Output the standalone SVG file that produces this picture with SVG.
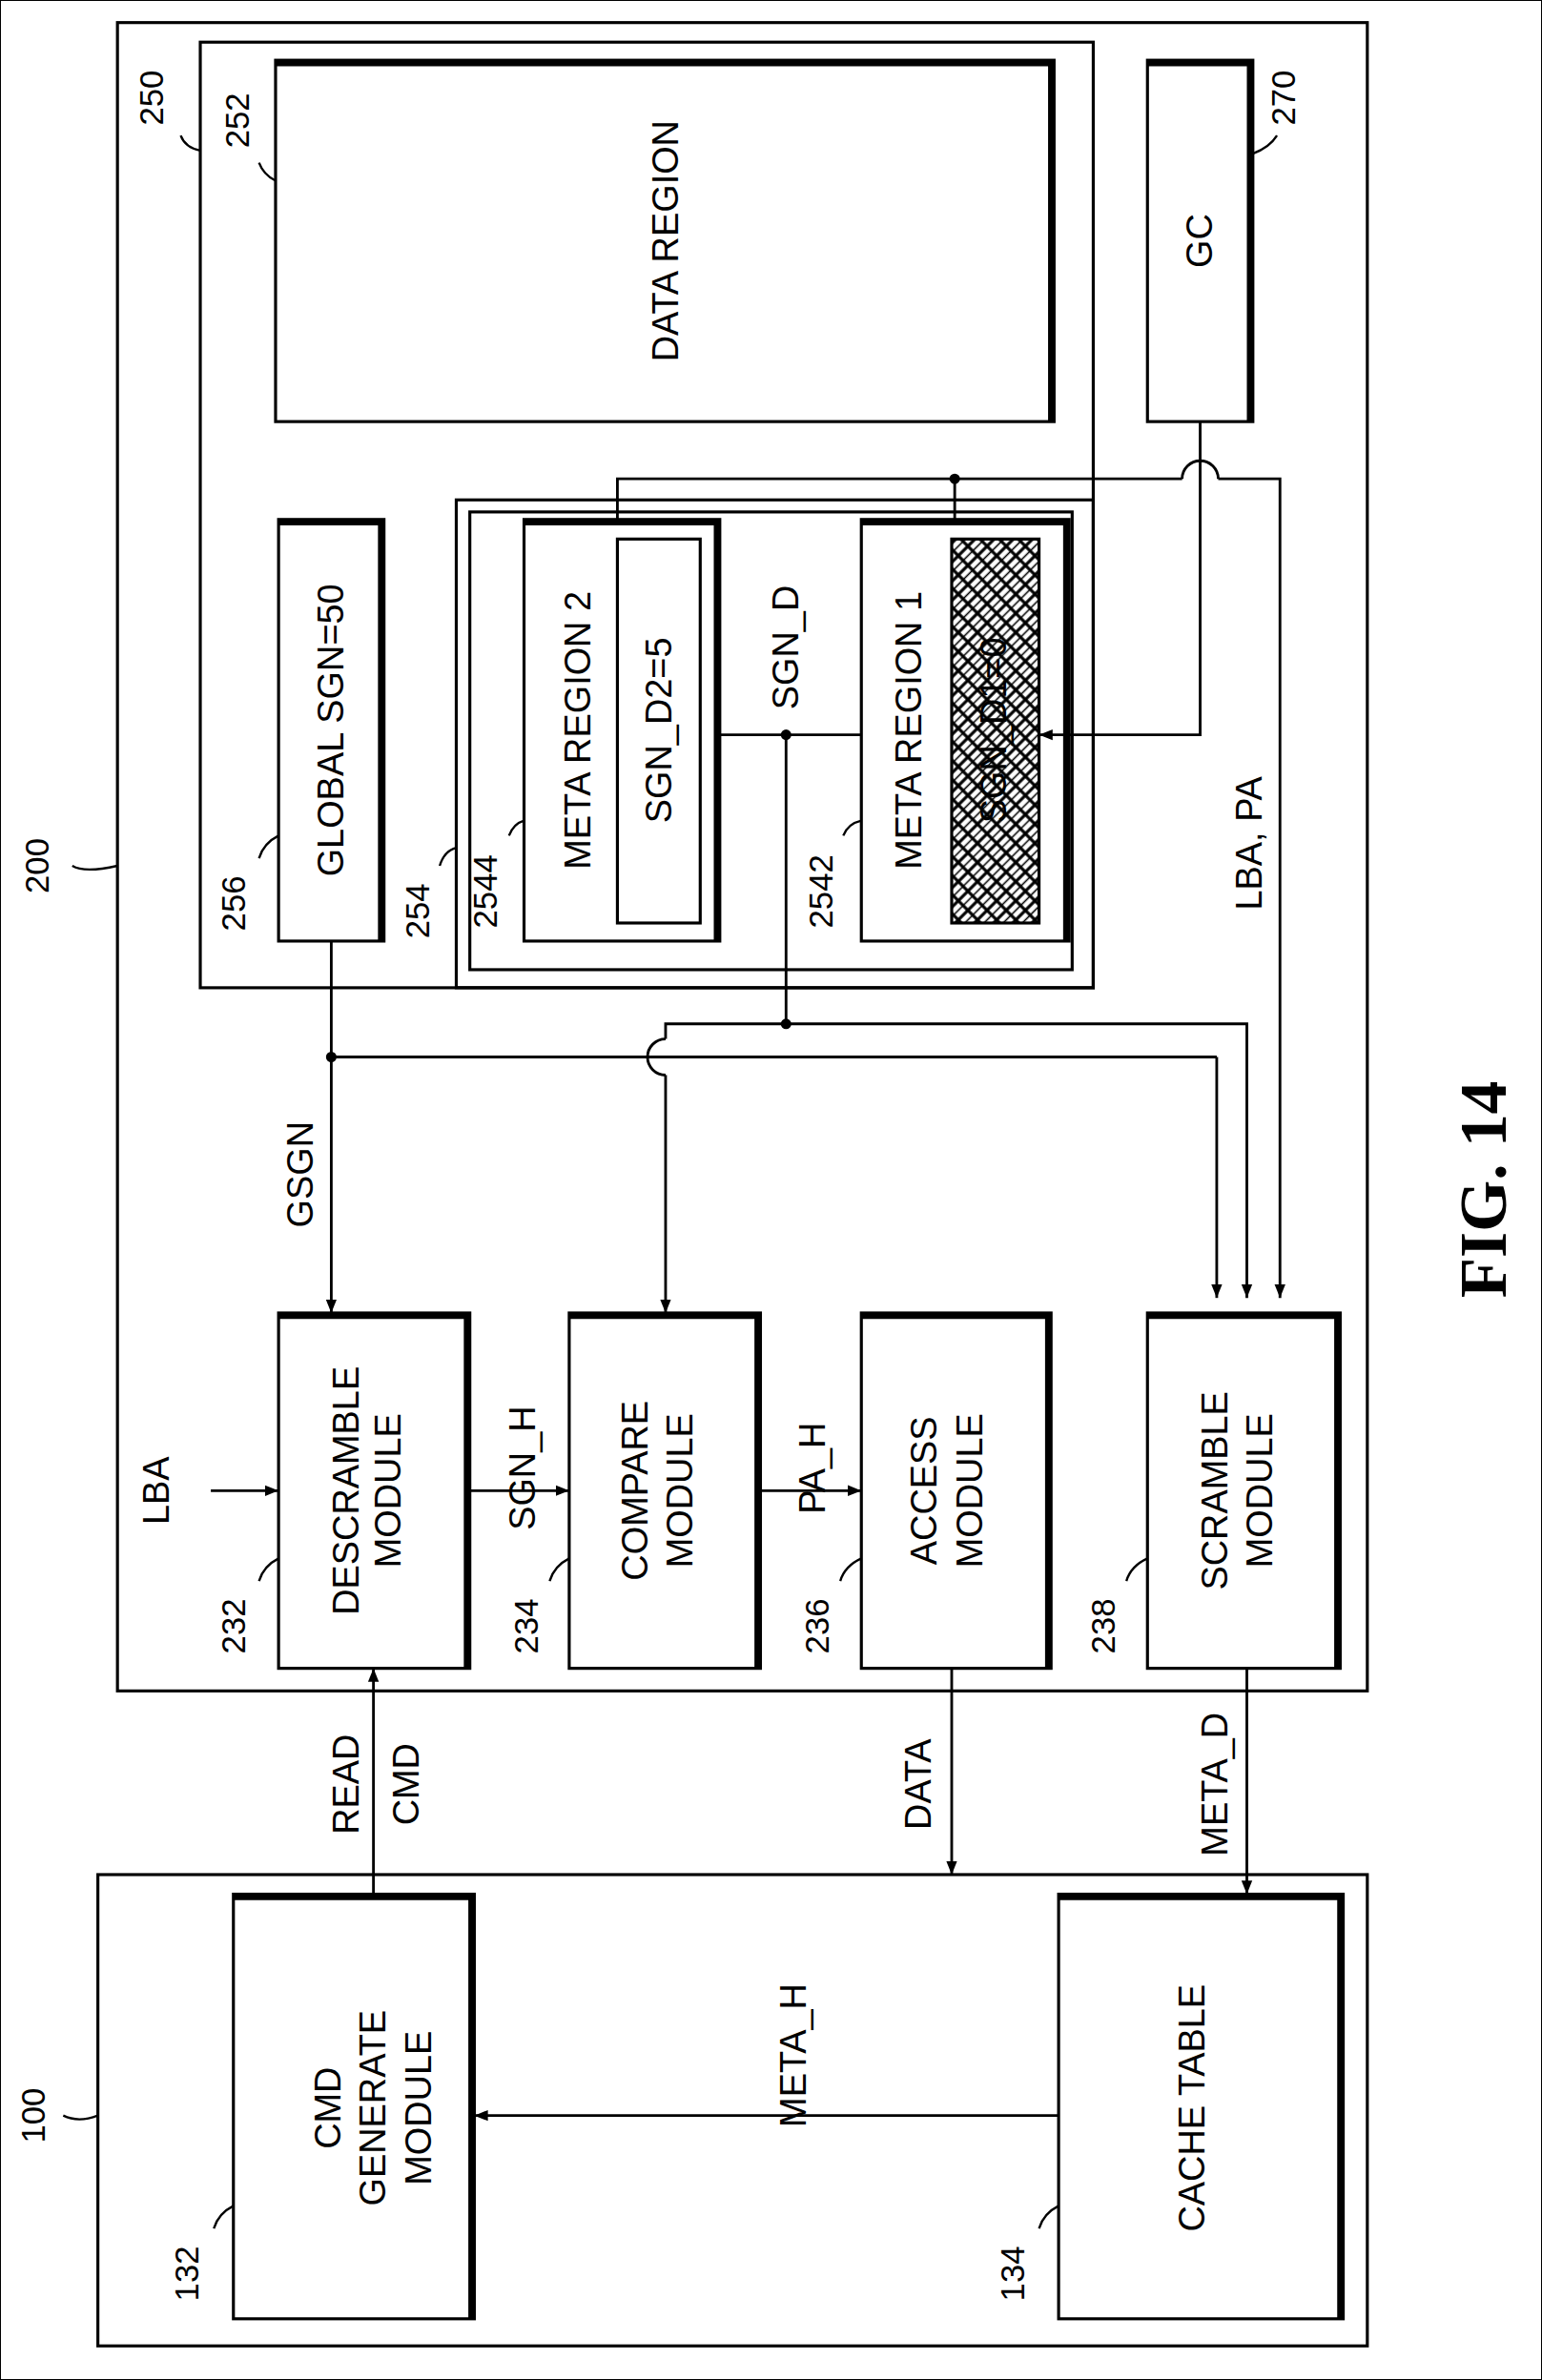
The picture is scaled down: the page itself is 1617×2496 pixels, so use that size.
<svg xmlns="http://www.w3.org/2000/svg" width="1617" height="2496" viewBox="0 0 1617 2496">
<defs>
<marker id="a" viewBox="0 0 10 10" refX="10" refY="5" markerWidth="9" markerHeight="9" orient="auto" markerUnits="userSpaceOnUse"><path d="M0,1 L10,5 L0,9 z" fill="#000"/></marker>
<pattern id="h" width="9" height="9" patternUnits="userSpaceOnUse" patternTransform="rotate(45)"><rect width="9" height="9" fill="#fff" stroke="none"/><line x1="4.5" y1="0" x2="4.5" y2="9" stroke="#000" stroke-width="1"/></pattern>
</defs>
<style>
rect{fill:none;stroke:#000;stroke-width:2}
.s{stroke:#000;stroke-width:4;fill:none}
.c line,.c path,.c polyline{stroke:#000;stroke-width:1.8;fill:none}
text{font-family:"Liberation Sans",Arial,sans-serif;font-size:24px;text-anchor:middle}
.n{font-size:22px}
.l{stroke:#000;stroke-width:1.5;fill:none}
</style>
<rect width="1617" height="2496" fill="#fff" stroke="none"/>
<g transform="scale(1.5791)">
<g id="n200"><rect x="78" y="15" width="830" height="1108"/><text class="n" transform="translate(32,575) rotate(-90)">200</text><path class="l" d="M48,575 q8,5 30,0"/></g>
<g id="n250"><rect x="133" y="28" width="593" height="628"/><text class="n" transform="translate(108,65) rotate(-90)">250</text><path class="l" d="M120,90 q3,8 13,10"/></g>
<g id="n252"><rect x="183" y="40" width="517" height="240"/><path class="s" d="M183,42 H698 V280"/><text transform="translate(450,160) rotate(-90)">DATA REGION</text><text class="n" transform="translate(165,80) rotate(-90)">252</text><path class="l" d="M172,108 q3,8 11,12"/></g>
<g id="n270"><rect x="762" y="40" width="70" height="240"/><path class="s" d="M762,42 H830 V280"/><text transform="translate(805,160) rotate(-90)">GC</text><text class="n" transform="translate(860,65) rotate(-90)">270</text><path class="l" d="M848,90 q-5,8 -16,12"/></g>
<g id="n256"><rect x="185" y="345" width="70" height="280"/><path class="s" d="M185,347 H253 V625"/><text transform="translate(228,485) rotate(-90)">GLOBAL SGN=50</text><text class="n" transform="translate(163,600) rotate(-90)">256</text><path class="l" d="M172,570 q3,-10 13,-15"/></g>
<g id="n254"><rect x="303" y="332" width="423" height="324"/><rect x="312" y="340" width="400" height="304"/><text class="n" transform="translate(285,605) rotate(-90)">254</text><path class="l" d="M292,575 q3,-10 11,-12"/></g>
<g id="n2544"><rect x="348" y="345" width="130" height="280"/><path class="s" d="M348,347 H476 V625"/><rect x="410" y="358" width="55" height="255"/><text transform="translate(392,485) rotate(-90)">META REGION 2</text><text transform="translate(446,485) rotate(-90)">SGN_D2=5</text><text class="n" transform="translate(330,592) rotate(-90)">2544</text><path class="l" d="M338,555 q3,-8 10,-10"/></g>
<g id="n2542"><rect x="572" y="345" width="138" height="280"/><path class="s" d="M572,347 H708 V625"/><rect x="632" y="358" width="58" height="255" style="fill:url(#h)"/><text transform="translate(612,485) rotate(-90)">META REGION 1</text><text transform="translate(668,485) rotate(-90)">SGN_D1=0</text><text class="n" transform="translate(553,592) rotate(-90)">2542</text><path class="l" d="M560,555 q3,-8 12,-10"/></g>
<g id="n232"><rect x="185" y="872" width="127" height="236"/><path class="s" d="M185,874 H310 V1108"/><text transform="translate(238,990) rotate(-90)">DESCRAMBLE</text><text transform="translate(266,990) rotate(-90)">MODULE</text><text class="n" transform="translate(163,1080) rotate(-90)">232</text><path class="l" d="M172,1050 q3,-10 13,-15"/></g>
<g id="n234"><rect x="378" y="872" width="127" height="236"/><path class="s" d="M378,874 H503 V1108"/><text transform="translate(430,990) rotate(-90)">COMPARE</text><text transform="translate(460,990) rotate(-90)">MODULE</text><text class="n" transform="translate(357,1080) rotate(-90)">234</text><path class="l" d="M365,1050 q3,-10 13,-15"/></g>
<g id="n236"><rect x="572" y="872" width="126" height="236"/><path class="s" d="M572,874 H696 V1108"/><text transform="translate(622,990) rotate(-90)">ACCESS</text><text transform="translate(652,990) rotate(-90)">MODULE</text><text class="n" transform="translate(550,1080) rotate(-90)">236</text><path class="l" d="M558,1050 q3,-10 14,-15"/></g>
<g id="n238"><rect x="762" y="872" width="128" height="236"/><path class="s" d="M762,874 H888 V1108"/><text transform="translate(815,990) rotate(-90)">SCRAMBLE</text><text transform="translate(845,990) rotate(-90)">MODULE</text><text class="n" transform="translate(740,1080) rotate(-90)">238</text><path class="l" d="M748,1050 q3,-10 14,-15"/></g>
<g id="n100"><rect x="65" y="1245" width="843" height="313"/><text class="n" transform="translate(30,1405) rotate(-90)">100</text><path class="l" d="M42,1405 q10,5 23,0"/></g>
<g id="n132"><rect x="155" y="1258" width="160" height="282"/><path class="s" d="M155,1260 H313 V1540"/><text transform="translate(226,1400) rotate(-90)">CMD</text><text transform="translate(256,1400) rotate(-90)">GENERATE</text><text transform="translate(286,1400) rotate(-90)">MODULE</text><text class="n" transform="translate(132,1510) rotate(-90)">132</text><path class="l" d="M142,1480 q3,-10 13,-15"/></g>
<g id="n134"><rect x="703" y="1258" width="189" height="282"/><path class="s" d="M703,1260 H890 V1540"/><text transform="translate(800,1400) rotate(-90)">CACHE TABLE</text><text class="n" transform="translate(680,1510) rotate(-90)">134</text><path class="l" d="M690,1480 q3,-10 13,-15"/></g>
<g id="conn" class="c">
<polyline points="410,345 410,318 634,318 634,345"/>
<line x1="634" y1="318" x2="785" y2="318"/><path d="M785,318 a12,12 0 0 1 24,0"/><polyline points="809,318 850,318 850,862" marker-end="url(#a)"/>
<polyline points="797,280 797,488 690,488" marker-end="url(#a)"/>
<line x1="478" y1="488" x2="572" y2="488"/>
<line x1="522" y1="488" x2="522" y2="680"/>
<path d="M442,690 a12,12 0 0 0 0,24"/><polyline points="442,690 442,680 828,680 828,862" marker-end="url(#a)"/>
<line x1="442" y1="714" x2="442" y2="872" marker-end="url(#a)"/>
<line x1="220" y1="702" x2="808" y2="702"/>
<line x1="808" y1="702" x2="808" y2="862" marker-end="url(#a)"/>
<line x1="220" y1="625" x2="220" y2="872" marker-end="url(#a)"/>
<line x1="140" y1="990" x2="185" y2="990" marker-end="url(#a)"/>
<line x1="312" y1="990" x2="378" y2="990" marker-end="url(#a)"/>
<line x1="505" y1="990" x2="572" y2="990" marker-end="url(#a)"/>
<line x1="248" y1="1258" x2="248" y2="1108" marker-end="url(#a)"/>
<line x1="632" y1="1108" x2="632" y2="1245" marker-end="url(#a)"/>
<line x1="828" y1="1108" x2="828" y2="1258" marker-end="url(#a)"/>
<line x1="703" y1="1405" x2="315" y2="1405" marker-end="url(#a)"/>
<circle cx="634" cy="318" r="3.5" fill="#000"/><circle cx="522" cy="488" r="3.5" fill="#000"/><circle cx="522" cy="680" r="3.5" fill="#000"/><circle cx="220" cy="702" r="3.5" fill="#000"/>
</g>
<g id="labels">
<text transform="translate(530,430) rotate(-90)">SGN_D</text>
<text transform="translate(838,560) rotate(-90)">LBA, PA</text>
<text transform="translate(208,780) rotate(-90)">GSGN</text>
<text transform="translate(112,990) rotate(-90)">LBA</text>
<text transform="translate(355,975) rotate(-90)">SGN_H</text>
<text transform="translate(548,975) rotate(-90)">PA_H</text>
<text transform="translate(238,1185) rotate(-90)">READ</text>
<text transform="translate(278,1185) rotate(-90)">CMD</text>
<text transform="translate(618,1185) rotate(-90)">DATA</text>
<text transform="translate(815,1185) rotate(-90)">META_D</text>
<text transform="translate(535,1365) rotate(-90)">META_H</text>
<text transform="translate(1000,790) rotate(-90)" style="font-family:'Liberation Serif',serif;font-weight:bold;font-size:44px">FIG. 14</text>
</g>
</g>
</svg>
